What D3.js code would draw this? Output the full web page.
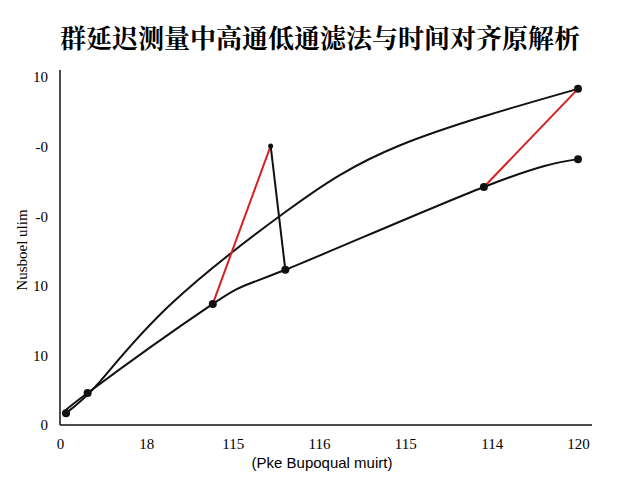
<!DOCTYPE html><html><head><meta charset="utf-8"><script src="https://d3js.org/d3.v7.min.js"></script>
<style>body{margin:0;background:#fff}</style></head><body><svg width="640" height="480"></svg>
<script>
const title="群延迟测量中高通低通滤法与时间对齐原解析";
const xTickLabels=["0","18","115","116","115","114","120"];
const yTickLabels=["0","10","10","-0","-0","10"];
const upperX=[0.07,0.46,1.27,2.61,3.94,6.0];
const upperY=[0.17,0.62,1.72,3.06,4.02,4.83];
const lowerX=[0.07,0.32,1.77,2.61,4.91,6.0];
const lowerY=[0.17,0.46,1.74,2.23,3.42,3.82];
const redSegs=[[[1.77,1.74],[2.44,4.01]],[[4.91,3.42],[6.0,4.83]]];
const blackSegs=[[[2.44,4.01],[2.61,2.23]]];
const dotsX=[0.07,0.32,1.77,2.44,2.61,4.91,6.0,6.0];
const dotsY=[0.17,0.46,1.74,4.01,2.23,3.42,4.83,3.82];
const svg=d3.select("svg");
const x=d3.scaleLinear().domain([0,6]).range([60,578]);
const y=d3.scaleLinear().domain([0,5]).range([425,77]);
svg.append("text").attr("x",320).attr("y",48).attr("text-anchor","middle").attr("font-family","Noto Serif CJK SC, Noto Sans CJK SC").attr("font-weight","bold").attr("font-size",26).text(title);
const xa=svg.append("g").attr("transform","translate(0,425)").call(d3.axisBottom(x).tickValues(d3.range(7)).tickFormat((d,i)=>xTickLabels[i]).tickSize(0).tickSizeOuter(0));
xa.select(".domain").attr("d","M60,0H592").attr("stroke","#111").attr("stroke-width",1.5);
xa.selectAll("text").attr("dy","1.4em").attr("font-family","Liberation Serif").attr("font-size",15);
const ya=svg.append("g").attr("transform","translate(60,0)").call(d3.axisLeft(y).tickValues(d3.range(6)).tickFormat((d,i)=>yTickLabels[i]).tickSize(0).tickSizeOuter(0));
ya.select(".domain").attr("d","M0,70V425").attr("stroke","#111").attr("stroke-width",1.5);
ya.selectAll("text").attr("dx","-0.6em").attr("font-family","Liberation Serif").attr("font-size",15);
svg.append("text").attr("x",322).attr("y",468).attr("text-anchor","middle").attr("font-family","Liberation Sans").attr("font-size",15).text("(Pke Bupoqual muirt)");
svg.append("text").attr("transform","translate(27,250) rotate(-90)").attr("text-anchor","middle").attr("font-family","Liberation Serif").attr("font-size",15).text("Nusboel ulim");
const line=d3.line().x(d=>x(d[0])).y(d=>y(d[1])).curve(d3.curveNatural);
svg.append("path").attr("d",line(upperX.map((v,i)=>[v,upperY[i]]))).attr("fill","none").attr("stroke","#111").attr("stroke-width",2);
svg.append("path").attr("d",line(lowerX.map((v,i)=>[v,lowerY[i]]))).attr("fill","none").attr("stroke","#111").attr("stroke-width",2);
const seg=d3.line().x(d=>x(d[0])).y(d=>y(d[1]));
redSegs.forEach(s=>svg.append("path").attr("d",seg(s)).attr("stroke","#d42020").attr("stroke-width",2).attr("fill","none"));
blackSegs.forEach(s=>svg.append("path").attr("d",seg(s)).attr("stroke","#111").attr("stroke-width",2).attr("fill","none"));
svg.selectAll("circle").data(dotsX).join("circle").attr("cx",d=>x(d)).attr("cy",(d,i)=>y(dotsY[i])).attr("r",(d,i)=>i==3?2.5:4).attr("fill","#111");
</script></body></html>
